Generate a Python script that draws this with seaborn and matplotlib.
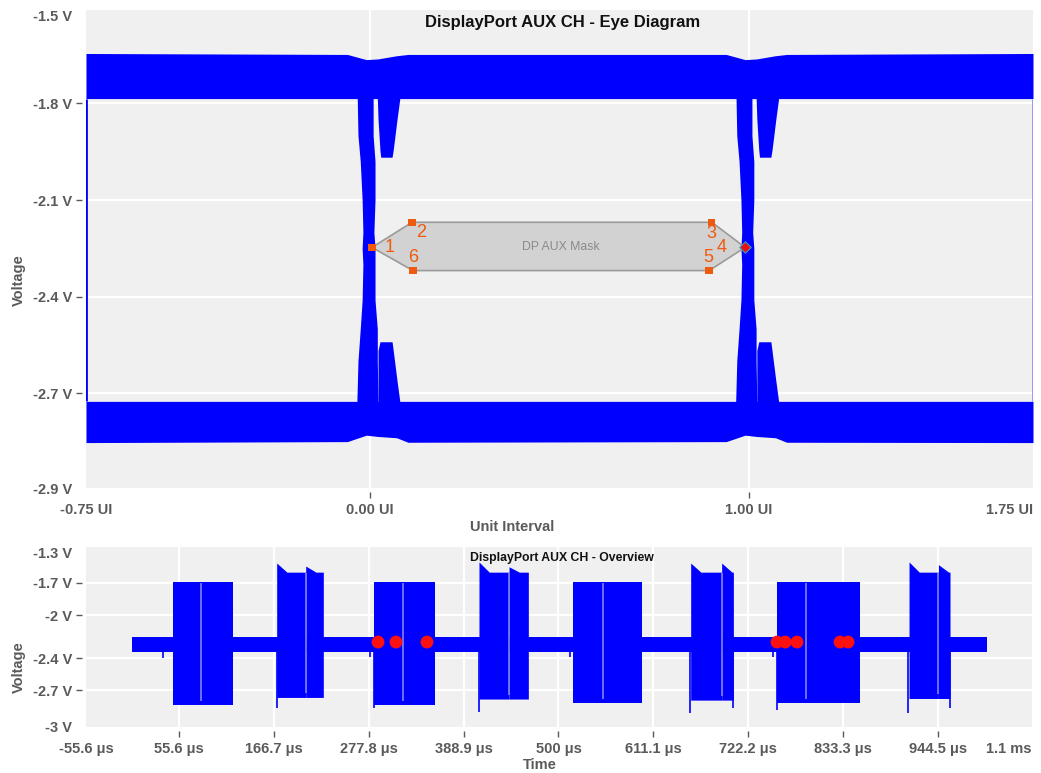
import numpy as np
import matplotlib
matplotlib.use("Agg")
import matplotlib.pyplot as plt
import seaborn as sns


sns.set_theme(style="darkgrid", rc={"axes.facecolor": "#f0f0f0",
                                    "grid.color": "white",
                                    "grid.linewidth": 1.6})
plt.rcParams["font.family"] = ["Liberation Sans", "DejaVu Sans"]

TRACE = "#0000ff"
GRAY = "#5a5a5a"
ORANGE = "#ee5a0e"


# eye diagram: band edges along the unit interval (V)
eye_ui = [-0.75, -0.06, -0.01, 0.02, 0.07, 0.10, 0.94, 0.99, 1.02, 1.07, 1.10, 1.75]
high_top = [-1.645, -1.648, -1.664, -1.662, -1.652, -1.648, -1.648, -1.664, -1.662, -1.652, -1.648, -1.645]
high_bot = [-1.785, -1.785, -1.785, -1.785, -1.785, -1.785, -1.785, -1.785, -1.785, -1.785, -1.785, -1.785]
low_top = [-2.725, -2.725, -2.725, -2.725, -2.725, -2.725, -2.725, -2.725, -2.725, -2.725, -2.725, -2.725]
low_bot = [-2.853, -2.850, -2.830, -2.834, -2.838, -2.852, -2.850, -2.830, -2.834, -2.838, -2.852, -2.853]

# transitions (offset from crossing, UI)
crossings = [0.0, 1.0]
stem_v = [-1.78, -1.90, -1.98, -2.10, -2.20, -2.25, -2.30, -2.41, -2.50, -2.60, -2.73]
stem_left = [-0.034, -0.032, -0.026, -0.021, -0.019, -0.021, -0.019, -0.021, -0.026, -0.032, -0.035]
stem_right = [0.008, 0.008, 0.013, 0.013, 0.010, 0.013, 0.013, 0.013, 0.019, 0.019, 0.021]
lobe_hi_v = [-1.78, -1.85, -1.945, -1.967]
lobe_hi_left = [0.019, 0.021, 0.026, 0.028]
lobe_hi_right = [0.079, 0.071, 0.061, 0.058]
lobe_lo_v = [-2.54, -2.567, -2.66, -2.73]
lobe_lo_left = [0.026, 0.021, 0.021, 0.021]
lobe_lo_right = [0.058, 0.061, 0.071, 0.079]

# DP AUX mask
mask_ui = [0.005, 0.111, 0.902, 0.990, 0.895, 0.113]
mask_v = [-2.247, -2.169, -2.169, -2.247, -2.319, -2.319]
mask_names = ["1", "2", "3", "4", "5", "6"]
mask_offsets = [(18, 0), (9, -10), (0, -11), (-23, 0), (-1, 13), (0, 13)]

eye_xticks = [-0.75, 0.0, 1.0, 1.75]
eye_xlabels = ["-0.75 UI", "0.00 UI", "1.00 UI", "1.75 UI"]
eye_yticks = [-2.994, -2.7, -2.4, -2.1, -1.8, -1.51]
eye_ylabels = ["-2.9 V", "-2.7 V", "-2.4 V", "-2.1 V", "-1.8 V", "-1.5 V"]

# overview (time in us)
idle_t = [0.0, 1001.8]
idle_hi = [-2.200, -2.200]
idle_lo = [-2.345, -2.345]
burst_start = [48.2, 170.0, 284.0, 406.9, 517.4, 654.8, 755.6, 910.5]
burst_gap = [81.4, 204.0, 318.3, 442.1, 552.5, 691.1, 789.5, 944.9]
burst_end = [119.2, 224.6, 355.4, 464.7, 597.4, 704.8, 853.2, 958.5]
burst_peak1 = [-1.69, -1.515, -1.69, -1.505, -1.69, -1.515, -1.69, -1.505]
burst_peak2 = [-1.69, -1.543, -1.69, -1.550, -1.69, -1.515, -1.69, -1.530]
burst_top = [-1.69, -1.60, -1.69, -1.60, -1.69, -1.60, -1.69, -1.60]
burst_bot = [-2.834, -2.765, -2.834, -2.780, -2.816, -2.790, -2.816, -2.775]
spike_t = [36.8, 170.0, 279.3, 284.0, 406.9, 513.5, 654.4, 704.4, 751.7, 755.6, 909.3, 958.5]
spike_v = [-2.40, -2.864, -2.39, -2.864, -2.90, -2.39, -2.91, -2.86, -2.39, -2.88, -2.91, -2.86]
viol_t = [288.7, 309.7, 346.0, 755.9, 765.5, 779.3, 829.7, 839.1]
viol_v = [-2.25, -2.25, -2.25, -2.25, -2.25, -2.25, -2.25, -2.25]

ov_xticks = [-53.3, 55.6, 166.7, 277.8, 388.9, 500.0, 611.1, 722.2, 833.3, 944.5, 1054.5]
ov_xlabels = ["-55.6 μs", "55.6 μs", "166.7 μs", "277.8 μs", "388.9 μs", "500 μs",
              "611.1 μs", "722.2 μs", "833.3 μs", "944.5 μs", "1.1 ms"]
ov_yticks = [-3.04, -2.7, -2.4, -2.0, -1.7, -1.366]
ov_ylabels = ["-3 V", "-2.7 V", "-2.4 V", "-2 V", "-1.7 V", "-1.3 V"]


def style_axes(ax, xticks, xlabels, yticks, ylabels):
    ax.set_xlim(xticks[0], xticks[-1])
    ax.set_ylim(yticks[0], yticks[-1])
    ax.set_xticks(xticks, xlabels)
    ax.set_yticks(yticks, ylabels)
    ax.spines["left"].set_position(("outward", 3))
    ax.spines["bottom"].set_position(("outward", 3))
    for sp in ax.spines.values():
        sp.set_visible(False)
    ax.tick_params(axis="both", length=4.5, width=1, color=GRAY, labelcolor=GRAY,
                   labelsize=10.5, left=True, bottom=True)
    ax.tick_params(axis="x", pad=3)
    ax.tick_params(axis="y", pad=2.5)
    for lab in ax.get_xticklabels() + ax.get_yticklabels():
        lab.set_fontweight("bold")
    for ticks in (ax.xaxis.get_major_ticks(), ax.yaxis.get_major_ticks()):
        for t in (ticks[0], ticks[-1]):
            t.tick1line.set_visible(False)
            t.gridline.set_visible(False)
    ax.get_xticklabels()[-1].set_horizontalalignment("right")
    ax.get_yticklabels()[-1].set_verticalalignment("top")
    ax.set_axisbelow(True)


fig = plt.figure(figsize=(10.41, 7.73), dpi=100)
ax1 = fig.add_axes([86 / 1041, 1 - 488 / 773, 947 / 1041, 478 / 773])
ax2 = fig.add_axes([86 / 1041, 1 - 727 / 773, 946 / 1041, 180 / 773])

# ---- eye diagram
ax1.fill_between(eye_ui, high_bot, high_top, color=TRACE, lw=0)
ax1.fill_between(eye_ui, low_bot, low_top, color=TRACE, lw=0)
for c in crossings:
    ax1.fill_betweenx(stem_v, np.add(stem_left, c), np.add(stem_right, c), color=TRACE, lw=0)
    ax1.fill_betweenx(lobe_hi_v, np.add(lobe_hi_left, c), np.add(lobe_hi_right, c), color=TRACE, lw=0)
    ax1.fill_betweenx(lobe_lo_v, np.add(lobe_lo_left, c), np.add(lobe_lo_right, c), color=TRACE, lw=0)
ax1.vlines([eye_xticks[0]], low_top[0], high_bot[0], color=TRACE, lw=2)
ax1.vlines([eye_xticks[-1]], low_top[-1], high_bot[-1], color="#9090ff", lw=2)

ax1.fill(mask_ui, mask_v, facecolor="#d2d2d2", edgecolor="#9a9a9a", lw=1.2, zorder=3)
ax1.text(np.mean(mask_ui), mask_v[0], "DP AUX Mask", color="#8a8a8a", fontsize=8.8,
         ha="center", va="center", zorder=4)
sq = [0, 1, 2, 4, 5]
sns.scatterplot(x=[mask_ui[i] for i in sq], y=[mask_v[i] for i in sq], marker="s",
                color=ORANGE, s=28, edgecolor="none", ax=ax1, zorder=5)
sns.scatterplot(x=[mask_ui[3]], y=[mask_v[3]], marker="D", color="#e81010", s=34,
                edgecolor="#3a9ac0", linewidth=0.8, ax=ax1, zorder=5)
for u, v, name, off in zip(mask_ui, mask_v, mask_names, mask_offsets):
    ax1.annotate(name, (u, v), xytext=off, textcoords="offset pixels", color=ORANGE,
                 fontsize=13, ha="center", va="center", zorder=6)

style_axes(ax1, eye_xticks, eye_xlabels, eye_yticks, eye_ylabels)
ax1.set_xlabel("")
ax1.set_ylabel("")

# ---- overview
ax2.fill_between(idle_t, idle_lo, idle_hi, color=TRACE, lw=0)
ax2.vlines(spike_t, np.mean(idle_hi + idle_lo), spike_v, color=TRACE, lw=1.2)
for i in range(len(burst_start)):
    parts = [(burst_start[i], burst_gap[i], burst_peak1[i]),
             (burst_gap[i], burst_end[i], burst_peak2[i])]
    for x0, x1, pk in parts:
        ax2.fill_between([x0, x0 + 12, x1], burst_bot[i], [pk, burst_top[i], burst_top[i]],
                         color=TRACE, lw=0)
    # thin lighter seam between the two packets of a burst
    ax2.vlines(burst_gap[i], burst_bot[i] + 0.04, burst_top[i] - 0.01, color="#8c8cff", lw=1.1)
sns.scatterplot(x=viol_t, y=viol_v, color="#ff1010", s=85, edgecolor="none", ax=ax2, zorder=5)

style_axes(ax2, ov_xticks, ov_xlabels, ov_yticks, ov_ylabels)
ax2.set_xlabel("")
ax2.set_ylabel("")

# titles / axis labels
fig.text(563 / 1041, 1 - 22 / 773, "DisplayPort AUX CH - Eye Diagram", fontsize=12,
         fontweight="bold", color="#111111", ha="center", va="center")
fig.text(562 / 1041, 1 - 558 / 773, "DisplayPort AUX CH - Overview", fontsize=8.8,
         fontweight="bold", color="#111111", ha="center", va="center")
fig.text(18.5 / 1041, 1 - 280 / 773, "Voltage", rotation=90, fontsize=10.5, fontweight="bold",
         color=GRAY, ha="center", va="center")
fig.text(18.5 / 1041, 1 - 667 / 773, "Voltage", rotation=90, fontsize=10.5, fontweight="bold",
         color=GRAY, ha="center", va="center")
fig.text(512 / 1041, 1 - 527 / 773, "Unit Interval", fontsize=10.5, fontweight="bold",
         color=GRAY, ha="center", va="center")
fig.text(540 / 1041, 1 - 765 / 773, "Time", fontsize=10.5, fontweight="bold",
         color=GRAY, ha="center", va="center")

fig.savefig("out.png", dpi=100, facecolor="white")
